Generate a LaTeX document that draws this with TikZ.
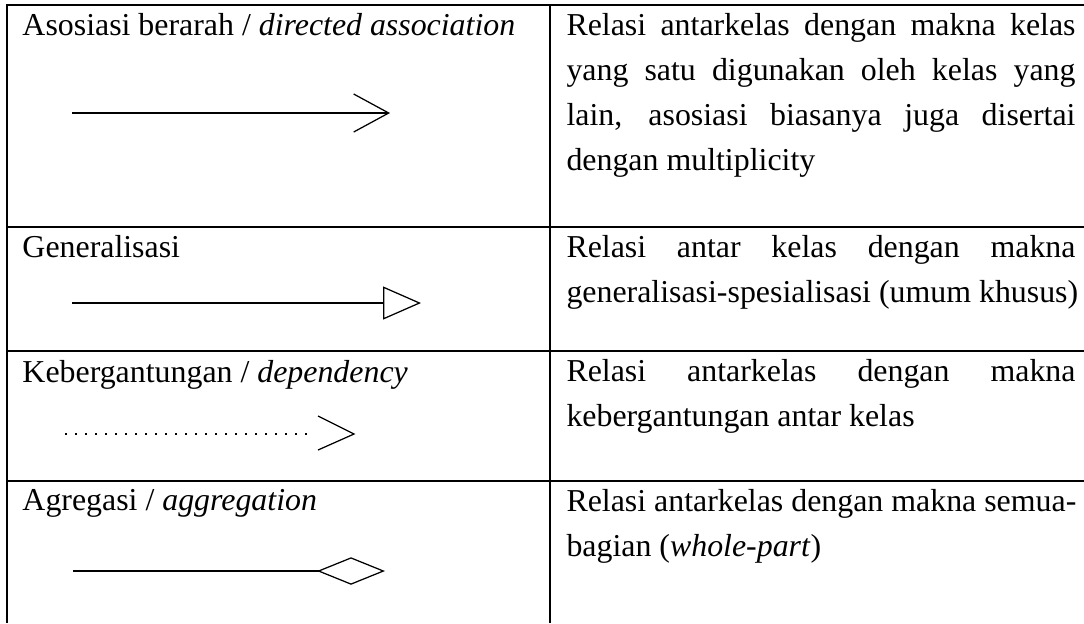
\documentclass[tikz,border=0pt]{standalone}
\usepackage{fontspec}
\setmainfont{Liberation Serif}
\usetikzlibrary{arrows.meta,calc}

% one justified line of a cell in the right column
\newcommand\jline[1]{\makebox[203.6pt][s]{#1}}

\begin{document}
\begin{tikzpicture}[x=0.4pt,y=-0.4pt,
  rule/.style={line width=0.6pt},
  sym/.style={line width=0.5pt, line join=miter},
  lbl/.style={anchor=base west, inner sep=0pt, font=\fontsize{12.75pt}{18pt}\selectfont},
]
\useasboundingbox (0,0) rectangle (1084,623);

% table rules
\draw[rule] (1084,5) -- (7,5) -- (7,623);
\draw[rule] (550,5) -- (550,623);
\foreach \y in {227,351,481} \draw[rule] (7,\y) -- (1084,\y);

% left column: names
\node[lbl] (l1) at (22,35)  {Asosiasi berarah / \textit{directed association}};
\node[lbl] (l2) at (22,257) {Generalisasi};
\node[lbl] (l3) at (22,382) {Kebergantungan / \textit{dependency}};
\node[lbl] (l4) at (22,510) {Agregasi / \textit{aggregation}};

% left column: symbols
\coordinate (a1s) at (72,113);  \coordinate (a1e) at (390,113);
\draw[sym, -{Straight Barb[length=14pt,width=15.2pt]}] (a1s) -- (a1e);

\coordinate (a2s) at (72,303);  \coordinate (a2e) at (421,303);
\draw[sym, -{Triangle[open,length=15.2pt,width=13.2pt]}] (a2s) -- (a2e);

\coordinate (a3s) at (65,434);  \coordinate (a3e) at (313,434);
\coordinate (a3tip) at (354,434);
\draw[line width=0.6pt, dash pattern=on 0.7pt off 3.3pt] (a3s) -- (a3e);
\draw[sym] ($(a3tip)+(-36,-18)$) -- (a3tip) -- ($(a3tip)+(-36,16)$);

\coordinate (a4s) at (73,571);  \coordinate (a4e) at (385,571);
\draw[sym, -{Diamond[open,length=27.2pt,width=11pt]}] (a4s) -- (a4e);

% right column: descriptions
\node[lbl] (r1a) at (566,35)  {\jline{Relasi antarkelas dengan makna kelas}};
\node[lbl] (r1b) at (566,80)  {\jline{yang satu digunakan oleh kelas yang}};
\node[lbl] (r1c) at (566,125) {\jline{lain, asosiasi biasanya juga disertai}};
\node[lbl] (r1d) at (566,170) {dengan multiplicity};

\node[lbl] (r2a) at (566,257) {\jline{Relasi antar kelas dengan makna}};
\node[lbl] (r2b) at (566,302) {generalisasi-spesialisasi (umum khusus)};

\node[lbl] (r3a) at (566,381) {\jline{Relasi antarkelas dengan makna}};
\node[lbl] (r3b) at (566,426) {kebergantungan antar kelas};

\node[lbl] (r4a) at (566,511) {Relasi antarkelas dengan makna semua-};
\node[lbl] (r4b) at (566,556) {bagian (\textit{whole-part})};
\end{tikzpicture}
\end{document}
